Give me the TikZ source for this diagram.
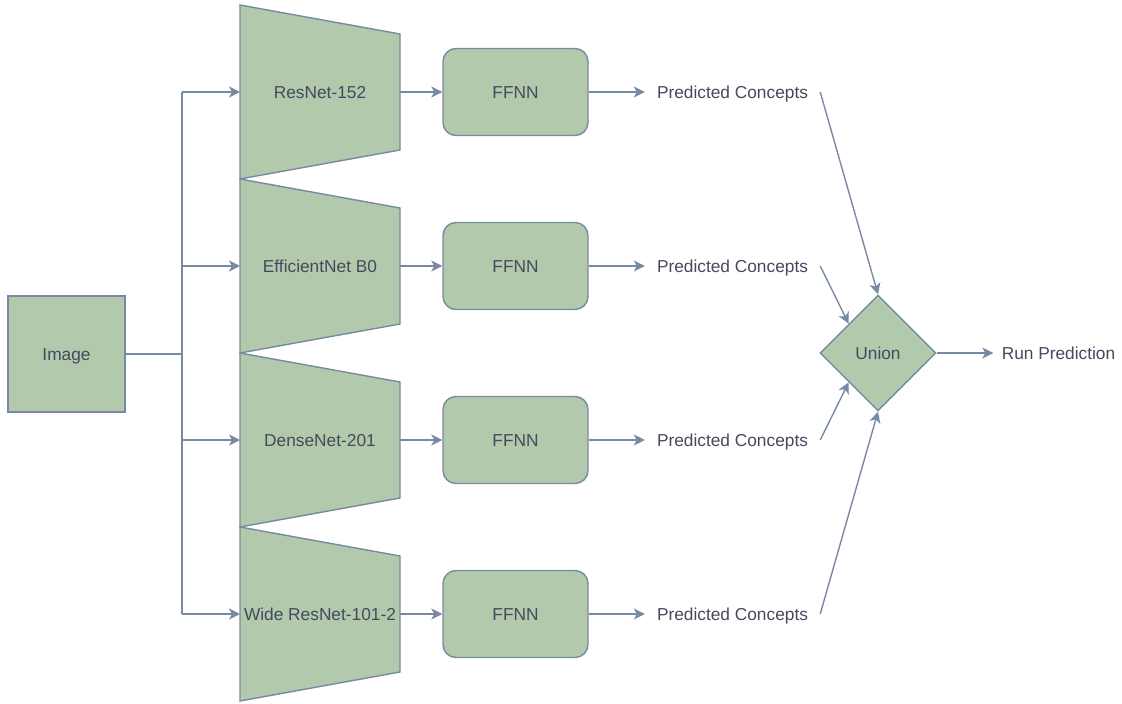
\documentclass[tikz,border=0pt]{standalone}
\usepackage{fontspec}
\setmainfont{Liberation Sans}
\usetikzlibrary{arrows.meta,shapes.geometric}
\definecolor{boxfill}{HTML}{B2C9AB}
\definecolor{boxline}{HTML}{788AA3}
\definecolor{ink}{HTML}{46495D}
\begin{document}
\begin{tikzpicture}[x=1pt,y=-1pt,
  font=\fontsize{17.3}{20}\selectfont, text=ink,
  every node/.append style={text height=12.4pt, text depth=0pt},
  shapebox/.style={draw=boxline, fill=boxfill, line width=1.4pt},
  ffnn/.style={shapebox, rounded corners=13pt, minimum width=145pt, minimum height=87pt, inner sep=0pt},
  label/.style={inner sep=0pt},
  conn/.style={draw=boxline, line width=1.4pt},
  arr/.style={conn, -{Stealth[length=11pt,width=11pt,inset=3pt]}}]
\useasboundingbox (0,0) rectangle (1122,704);

% input image
\node[shapebox, minimum width=117pt, minimum height=116pt, inner sep=0pt] (img) at (66.5,354) {Image};
\coordinate (split) at (182,354);
\draw[conn] (img.east) -- (split);

% backbone trapezoids, their labels and FFNN heads
\foreach \i/\cy/\name in {1/92/ResNet-152, 2/266/EfficientNet B0, 3/440/DenseNet-201, 4/614/Wide ResNet-101-2}{
  \draw[shapebox] (240,\cy-87) -- (400,\cy-58) -- (400,\cy+58) -- (240,\cy+87) -- cycle;
  \node[label] (net\i) at (320,\cy) {\name};
  \coordinate (in\i) at (240,\cy);
  \coordinate (out\i) at (400,\cy);
  \coordinate (fork\i) at (182,\cy);
  \node[ffnn] (ff\i) at (515.5,\cy) {FFNN};
  \node[label, minimum width=175pt, minimum height=20pt] (pc\i) at (732.5,\cy) {Predicted Concepts};
  \draw[arr] (fork\i) -- (in\i);
  \draw[arr] (out\i) -- (ff\i.west);
  \draw[arr] (ff\i.east) -- (pc\i.west);
}
\draw[conn] (fork1) -- (fork4);

% union of the predictions
\node[shapebox, diamond, minimum width=116pt, minimum height=116pt, inner sep=0pt, aspect=1] (union) at (878,353) {Union};
\draw[arr] (pc1.east) -- (union.north);
\draw[arr] (pc2.east) -- (union.north west);
\draw[arr] (pc3.east) -- (union.south west);
\draw[arr] (pc4.east) -- (union.south);

\node[label, minimum width=130pt, minimum height=20pt] (run) at (1058.5,353) {Run Prediction};
\draw[arr] (union.east) -- (run.west);
\end{tikzpicture}
\end{document}
